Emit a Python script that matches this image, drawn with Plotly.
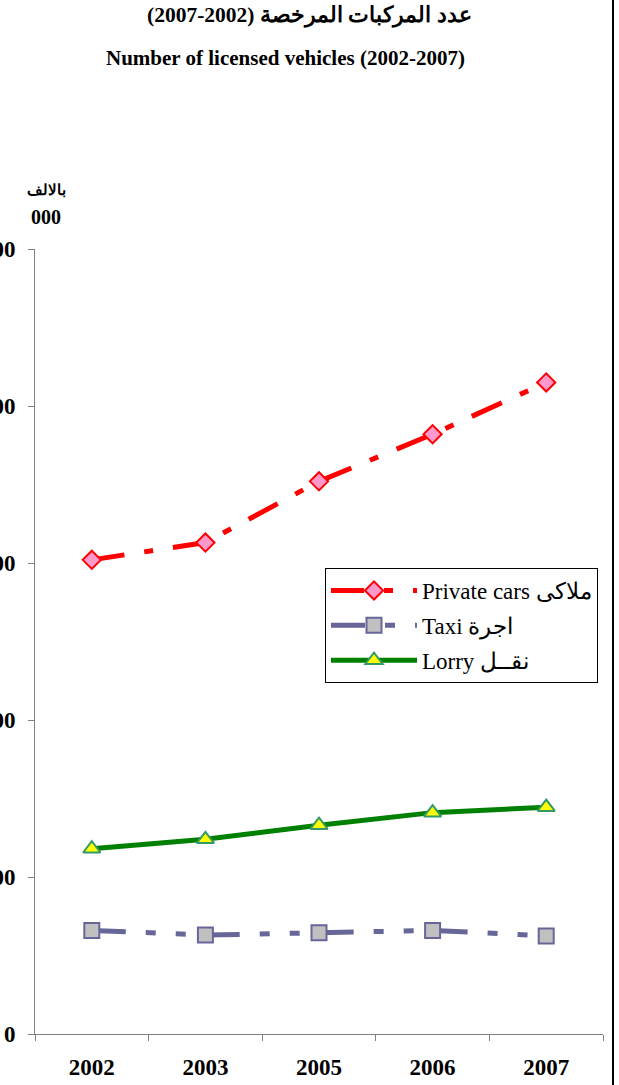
import plotly.graph_objects as go

years = ["2002", "2003", "2005", "2006", "2007"]
private_cars = [302, 313, 352, 382, 415]
taxi = [66, 63, 64.5, 66, 62.5]
lorry = [118, 124, 133, 141, 144.5]
y_ticks = [0, 100, 200, 300, 400, 500]

names = ["Private cars ملاكى", "Taxi اجرة", "Lorry نقــل"]

SERIF = "Liberation Serif, Times New Roman, serif"

W, H = 619, 1085
# plot area in pixels
PX0, PX1, PY0, PY1 = 35, 603, 249, 1034
L, R, T, B = PX0, W - PX1, PY0, H - PY1
pw, ph = PX1 - PX0, PY1 - PY0

def px_x(x):
    return (x - PX0) / pw

def px_y(y):
    return (PY1 - y) / ph

fig = go.Figure()
fig.add_trace(go.Scatter(
    x=years, y=private_cars, name=names[0], mode="lines+markers",
    line=dict(color="#FF0000", width=5, dash="33px,20px,9px,20px"),
    marker=dict(symbol="diamond", size=14, color="#FF99CC",
                line=dict(color="#FF0000", width=2)),
    legendgroup="a"))
fig.add_trace(go.Scatter(
    x=years, y=taxi, name=names[1], mode="lines+markers",
    line=dict(color="#666699", width=5, dash="34px,20px,10px,20px,10px,20px"),
    marker=dict(symbol="square", size=15, color="#C0C0C0",
                line=dict(color="#666699", width=2)),
    legendgroup="b"))
fig.add_trace(go.Scatter(
    x=years, y=lorry, name=names[2], mode="lines+markers",
    line=dict(color="#008000", width=5),
    marker=dict(symbol="triangle-up", size=15, color="#FFFF00",
                line=dict(color="#339966", width=2)),
    legendgroup="c"))

fig.update_layout(
    width=W, height=H,
    margin=dict(l=L, r=R, t=T, b=B, autoexpand=False),
    paper_bgcolor="white", plot_bgcolor="white",
    font=dict(family=SERIF, color="black"),
    showlegend=True,
    legend=dict(
        x=px_x(325), y=px_y(568), xanchor="left", yanchor="top",
        bordercolor="#000000", borderwidth=1, bgcolor="white",
        font=dict(family=SERIF, size=23, color="black"),
        traceorder="grouped", tracegroupgap=2, itemwidth=86,
    ),
    xaxis=dict(
        type="category", range=[-0.5, 4.5], automargin=False,
        showline=True, linecolor="#808080", linewidth=1,
        ticks="outside", ticklen=6, tickcolor="#808080", tickson="boundaries",
        tickfont=dict(family=SERIF, size=23, color="black", weight="bold"),
        ticklabelstandoff=12,
        showgrid=False, zeroline=False,
    ),
    yaxis=dict(
        range=[0, 500], tickvals=y_ticks, automargin=False,
        ticktext=[str(v) for v in y_ticks],
        showline=True, linecolor="#808080", linewidth=1,
        ticks="outside", ticklen=6, tickcolor="#808080",
        tickfont=dict(family=SERIF, size=23, color="black", weight="bold"),
        ticklabelstandoff=8,
        showgrid=False, zeroline=False,
    ),
)

fig.add_annotation(x=px_x(309), y=px_y(15), xref="paper", yref="paper",
                   text="<b>عدد المركبات المرخصة (2002-2007)</b>", showarrow=False,
                   xanchor="center", yanchor="middle",
                   font=dict(family=SERIF, size=21.5, color="black"))
fig.add_annotation(x=px_x(285.5), y=px_y(58), xref="paper", yref="paper",
                   text="<b>Number of licensed vehicles (2002-2007)</b>", showarrow=False,
                   xanchor="center", yanchor="middle",
                   font=dict(family=SERIF, size=21, color="black"))
fig.add_annotation(x=px_x(46), y=px_y(190), xref="paper", yref="paper",
                   text="<b>بالالف</b>", showarrow=False,
                   xanchor="center", yanchor="middle",
                   font=dict(family=SERIF, size=15, color="black"))
fig.add_annotation(x=px_x(46), y=px_y(217), xref="paper", yref="paper",
                   text="<b>000</b>", showarrow=False,
                   xanchor="center", yanchor="middle",
                   font=dict(family=SERIF, size=20, color="black"))

fig.add_shape(type="line", xref="paper", yref="paper",
              x0=px_x(613), x1=px_x(613), y0=px_y(0), y1=px_y(H),
              line=dict(color="black", width=2))

# place the figure at the page's top-left corner
fig.write_html("out.html", config={"displayModeBar": False},
               post_script="document.body.style.margin='0px';")
